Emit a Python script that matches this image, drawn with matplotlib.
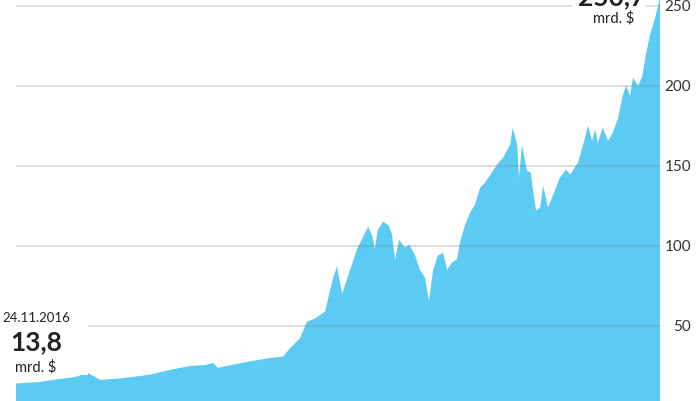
import matplotlib
matplotlib.use("Agg")
import matplotlib.pyplot as plt
from matplotlib.patches import Rectangle

# days since 24.11.2016
days = [0, 54, 100, 134, 163, 179, 191, 236, 281, 304, 349, 395, 429, 447, 458,
        485, 531, 576, 606, 622, 644, 660, 678, 701, 719, 728, 740, 746, 774, 799,
        808, 814, 821, 833, 846, 853, 860, 869, 882, 892, 905, 916, 928, 937, 946,
        957, 969, 978, 989, 1000, 1007, 1019, 1030, 1041, 1053, 1064, 1075, 1091,
        1105, 1121, 1127, 1137, 1141, 1148, 1159, 1168, 1173, 1180, 1189, 1196,
        1207, 1216, 1234, 1248, 1257, 1275, 1291, 1298, 1307, 1314, 1320, 1331,
        1343, 1354, 1366, 1377, 1384, 1393, 1400, 1411, 1420, 1429, 1438, 1450,
        1456, 1461]
# market value, mrd. $
value = [13.8, 14.8, 16.7, 17.9, 20.4, 18.0, 16.1, 17.0, 18.5, 19.4, 22.3, 24.8,
         25.4, 26.7, 23.6, 25.2, 27.7, 29.8, 30.6, 36, 42, 52.5, 54.4, 58.8, 79.4,
         86.9, 70, 75, 98, 111.9, 106.3, 98, 110, 115, 112.5, 106.9, 91, 103.8,
         98.8, 100.6, 94.4, 85, 80, 65.5, 84.4, 93.8, 95.6, 85, 89.4, 91.3, 101.9,
         113.1, 120.6, 125.6, 136.3, 139.4, 143.8, 150.6, 155, 163.1, 173.8, 163,
         142.5, 163, 146.9, 145.6, 134.4, 121.9, 123.8, 137.5, 123.8, 130, 142.5,
         147.5, 144.4, 151.9, 167.5, 175, 165.6, 172.5, 164.4, 173.8, 165.6, 170.6,
         180, 194.4, 200, 193.8, 205, 200, 205, 219.4, 231.3, 242.5, 248.8, 256]

yticks = [50, 100, 150, 200, 250]
ytick_labels = ["50", "100", "150", "200", "250"]
start_date = "24.11.2016"
start_label = "13,8"
end_label = "250,7"
unit = "mrd. $"

W, H = 696, 402
fig = plt.figure(figsize=(W / 100, H / 100), dpi=100)
ax = fig.add_axes([16 / W, 0, (660 - 16) / W, 1])
ax.fill_between(days, value, 0, color="#5ccbf4", linewidth=0, zorder=1)
ax.set_xlim(0, days[-1])
ax.set_ylim(2.9, 254.2)
for y in yticks:
    ax.axhline(y, color="#808080", alpha=0.32, linewidth=1.2, zorder=2)
for s in ax.spines.values():
    s.set_visible(False)
ax.set_xticks([])
ax.set_yticks([])

font = ["Lato", "DejaVu Sans"]
for y, lab in zip(yticks, ytick_labels):
    ypx = H - (y - 2.9) / (254.2 - 2.9) * H
    fig.text(691 / W, 1 - ypx / H, lab, ha="right", va="center",
             fontsize=11, color="#333333", family=font)

# white boxes behind annotations
fig.patches.append(Rectangle((0, 1 - 376 / H), 88 / W, 71 / H,
                             transform=fig.transFigure, facecolor="white",
                             edgecolor="none", zorder=3))
fig.patches.append(Rectangle((572 / W, 1 - 28 / H), 74 / W, 28 / H,
                             transform=fig.transFigure, facecolor="white",
                             edgecolor="none", zorder=3))

fig.text(36 / W, 1 - 318 / H, start_date, ha="center", va="center",
         fontsize=9.5, color="#222222", family=font, zorder=4)
fig.text(36 / W, 1 - 350 / H, start_label, ha="center", va="baseline",
         fontsize=19, fontweight="bold", color="#222222", family=font, zorder=4)
fig.text(36 / W, 1 - 367 / H, unit, ha="center", va="center",
         fontsize=10.5, color="#222222", family=font, zorder=4)

fig.text(612 / W, 1 - 5 / H, end_label, ha="center", va="baseline",
         fontsize=19, fontweight="bold", color="#222222", family=font, zorder=4)
fig.text(614 / W, 1 - 18 / H, unit, ha="center", va="center",
         fontsize=10.5, color="#222222", family=font, zorder=4)

fig.savefig("out.png", dpi=100)
